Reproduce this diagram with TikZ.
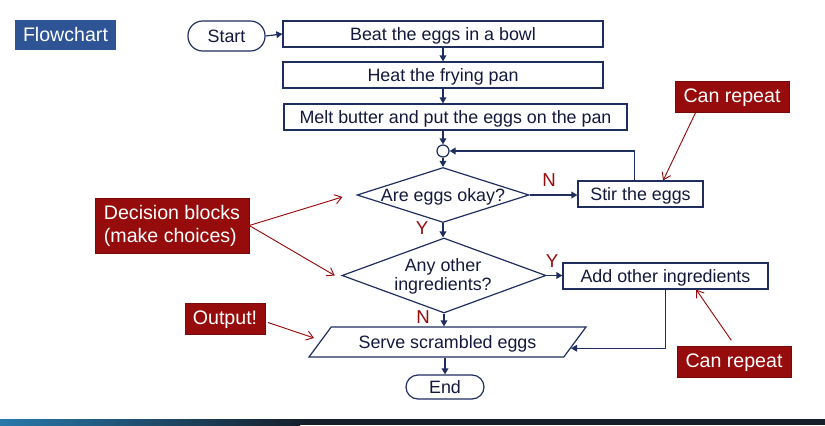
\documentclass[tikz,border=0pt]{standalone}
\usepackage{fontspec}
\setmainfont{Liberation Sans}
\usetikzlibrary{arrows.meta,shapes.geometric,calc}
\definecolor{navy}{RGB}{31,45,95}
\definecolor{navytext}{RGB}{20,24,60}
\definecolor{dred}{RGB}{150,12,12}
\definecolor{fblue}{RGB}{47,84,150}
\definecolor{banddark}{RGB}{22,32,44}
\definecolor{bandblue}{RGB}{40,120,170}
\begin{document}
\begin{tikzpicture}[x=0.75pt,y=-0.75pt,
 every node/.style={font=\fontsize{13.4}{15.5}\selectfont, text=navytext, text height=12pt, text depth=3pt},
 multi/.style={text height={}, text depth={}},
 proc/.style={draw=navy, line width=0.9pt, fill=white, minimum height=19.5pt, inner sep=0pt},
 term/.style={proc},
 dec/.style={draw=navy, line width=0.9pt, diamond, inner sep=0pt},
 note/.style={fill=dred, draw=dred!80!black, text=white, font=\fontsize{14.7}{17.25}\selectfont, inner sep=0pt},
 yn/.style={text=dred, font=\fontsize{14}{16}\selectfont, inner sep=0pt},
 flow/.style={draw=navy, line width=0.9pt, -{Triangle[length=4.5pt,width=5pt]}},
 ptr/.style={draw=dred, line width=0.7pt, -{Straight Barb[length=5pt,width=7pt]}},
]
\useasboundingbox (0,0) rectangle (825,425);

\node[fill=fblue, text=white, font=\fontsize{14.7}{17}\selectfont, minimum width=75.75pt, minimum height=22.5pt, inner sep=0pt] (title) at (65.5,35) {Flowchart};

\node[term, minimum width=57.75pt, minimum height=22.5pt, rounded corners=11pt] (start) at (226.5,36) {Start};
\node[proc, minimum width=240pt] (beat) at (443,34) {Beat the eggs in a bowl};
\node[proc, minimum width=240pt] (heat) at (443,75) {Heat the frying pan};
\node[proc, minimum width=257.25pt] (melt) at (455.5,117) {Melt butter and put the eggs on the pan};
\node[circle, draw=navy, line width=0.9pt, minimum size=9pt, inner sep=0pt, text height=0pt, text depth=0pt] (join) at (443,151) {};
\node[dec, minimum width=129pt, minimum height=41.25pt, text height=0pt, text depth=0pt] (d1) at (443,195) {};
\node (d1t) at (d1) {Are eggs okay?};
\node[dec, minimum width=153pt, minimum height=56.25pt, text height=0pt, text depth=0pt] (d2) at (444,275.5) {};
\node[multi, align=center, font=\fontsize{13.4}{14.25}\selectfont] (d2t) at (443,276.5) {Any other\\ingredients?};
\node[proc, minimum width=93.75pt] (stir) at (640.5,194) {Stir the eggs};
\node[proc, minimum width=153.75pt] (add) at (665.5,276) {Add other ingredients};
\node[trapezium, trapezium left angle=42, trapezium right angle=138, trapezium stretches body, draw=navy, line width=0.9pt, minimum width=207.75pt, minimum height=22.5pt, inner sep=0pt] (serve) at (447.5,342) {Serve scrambled eggs};
\node[term, minimum width=58.5pt, minimum height=18pt, rounded corners=9pt] (end) at (445,387) {End};

\node[note, minimum width=85.5pt, minimum height=23.25pt] (cr1) at (732,96.5) {Can repeat};
\node[note, minimum width=85.5pt, minimum height=23.25pt] (cr2) at (734,361.5) {Can repeat};
\node[note, multi, minimum width=115.5pt, minimum height=41.25pt, align=left] (decn) at (172,225.5) {Decision blocks\\(make choices)};
\node[note, minimum width=60pt, minimum height=23.25pt] (outp) at (225,318.5) {Output!};

\node[yn] (n1) at (549,180) {N};
\node[yn] (y1) at (422,228) {Y};
\node[yn] (y2) at (552,261) {Y};
\node[yn] (n2) at (423,317) {N};

\draw[flow] (start.east) -- (beat.west);
\draw[flow] (beat.south) -- (heat.north);
\draw[flow] (heat.south) -- (heat.south |- melt.north);
\draw[flow] (join.north |- melt.south) -- (join.north);
\draw[flow] (join.south) -- (d1.north);
\draw[flow] (d1.south) -- (d1.south |- d2.north);
\draw[flow] (d1.east) -- (d1.east -| stir.west);
\draw[flow] ([xshift=-4.5pt]stir.north) |- (join.east);
\draw[flow] (d2.east) -- (d2.east -| add.west);
\draw[flow] (add.south) |- ($(serve.east)!0.4!(serve.bottom right corner)$);
\draw[flow] (d2.south) -- (d2.south |- serve.north);
\draw[flow] (end.north |- serve.south) -- (end.north);

\draw[ptr] ([xshift=15.75pt]cr1.south west) -- ([xshift=17pt]stir.north);
\draw[ptr] ([xshift=-2pt,yshift=4pt]cr2.north) -- ([xshift=23pt]add.south);
\draw[ptr] (decn.east) -- ([xshift=-10.5pt,yshift=-1.5pt]d1.west);
\draw[ptr] (decn.east) -- ([xshift=-5pt]d2.west);
\draw[ptr] ([xshift=2pt,yshift=-3pt]outp.east) -- ([xshift=-4pt,yshift=3pt]serve.west);

\fill[banddark] (0,419) rectangle (825,425);
\shade[left color=bandblue, right color=banddark] (0,419) rectangle (300,425);
\end{tikzpicture}
\end{document}
